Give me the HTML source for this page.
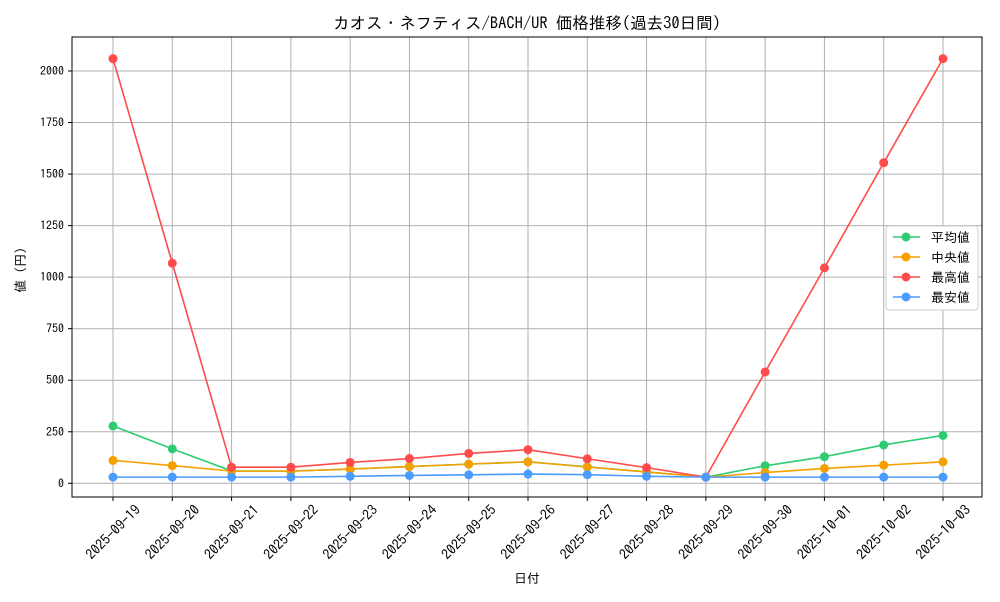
<!DOCTYPE html>
<html><head><meta charset="utf-8"><style>
body{margin:0;background:#fff;font-family:"IPAGothic","Noto Sans CJK JP",sans-serif}
svg text{font-family:"IPAGothic","Noto Sans CJK JP",sans-serif}
</style></head><body>
<svg id="c" width="1000" height="600"></svg>
<script>
const dates=["2025-09-19","2025-09-20","2025-09-21","2025-09-22","2025-09-23","2025-09-24","2025-09-25","2025-09-26","2025-09-27","2025-09-28","2025-09-29","2025-09-30","2025-10-01","2025-10-02","2025-10-03"];
const avgVals=[278,167,60,59,69,81,93,104,80,55,30,85,129,186,232];
const medVals=[111,86,59,59,69,81,93,104,79,55,30,52,72,88,104];
const maxVals=[2060,1068,78,78,101,120,145,163,119,76,30,540,1045,1555,2060];
const minVals=[30,30,30,30,34,38,41,45,42,34,30,30,30,30,30];
const yTicks=[0,250,500,750,1000,1250,1500,1750,2000];
const seriesNames=["平均値","中央値","最高値","最安値"];
const colors=["#2ecc71","#f5a000","#ff4b4b","#4c9bff"];
const NS="http://www.w3.org/2000/svg",svg=document.getElementById('c');
function el(t,a,p){const e=document.createElementNS(NS,t);for(const k in a)e.setAttribute(k,a[k]);(p||svg).appendChild(e);return e;}
const L=72,R=982,T=37,B=497;
const x=i=>113+i*(943-113)/(dates.length-1);
const y=v=>483.3-v*(483.3-71)/2000;
for(const t of yTicks){const g=el('line',{x1:L,x2:R,y1:y(t),y2:y(t),stroke:'#b0b0b0','stroke-width':1});
const tx=el('text',{x:L-8,y:y(t)+4,'text-anchor':'end','font-size':12});tx.textContent=t;
el('line',{x1:L-4,x2:L,y1:y(t),y2:y(t),stroke:'#000'});}
dates.forEach((d,i)=>{const g=el('line',{x1:x(i),x2:x(i),y1:T,y2:B,stroke:'#b0b0b0','stroke-width':1});
el('line',{x1:x(i),x2:x(i),y1:B,y2:B+4,stroke:'#000'});
const cx=x(i),cy=532;
const tx=el('text',{x:cx,y:cy+5,'text-anchor':'middle','font-size':14,transform:`rotate(-45 ${cx} ${cy})`});tx.textContent=d;});
const fr=el('rect',{x:L,y:T,width:R-L,height:B-T,fill:'none',stroke:'#000'});
[avgVals,medVals,maxVals,minVals].forEach((s,k)=>{const p=el('polyline',{points:s.map((v,i)=>x(i)+','+y(v)).join(' '),fill:'none',stroke:colors[k],'stroke-width':1.6});
s.forEach((v,i)=>{const c=el('circle',{cx:x(i),cy:y(v),r:4.5,fill:colors[k]});});});
const t=el('text',{x:527,y:29,'text-anchor':'middle','font-size':16.5});t.textContent='カオス・ネフティス/BACH/UR 価格推移(過去30日間)';
const xt=el('text',{x:527,y:583,'text-anchor':'middle','font-size':13});xt.textContent='日付';
const yt=el('text',{x:25,y:270,'text-anchor':'middle','font-size':13,transform:'rotate(-90 25 270)'});yt.textContent='値 (円)';
const lg=el('rect',{x:886,y:226,width:92,height:84,fill:'#fff',stroke:'#ccc',rx:3});
seriesNames.forEach((n,k)=>{const yy=237+k*20;el('line',{x1:893,x2:920,y1:yy,y2:yy,stroke:colors[k],'stroke-width':1.6});el('circle',{cx:906,cy:yy,r:4.5,fill:colors[k]});
const tx=el('text',{x:931,y:yy+5,'font-size':13});tx.textContent=n;});
</script></body></html>
